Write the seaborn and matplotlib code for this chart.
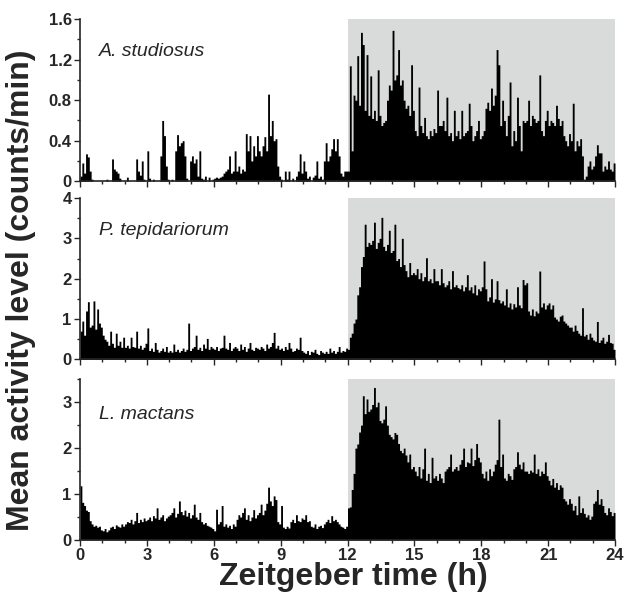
import numpy as np
import pandas as pd
import seaborn as sns
import matplotlib
matplotlib.use('Agg')
import matplotlib.pyplot as plt
from matplotlib.ticker import MultipleLocator

# actividad media por intervalos de 5 min (12 valores por hora, ZT0 - ZT24)
a_studiosus = [
    [0.05, 0.18, 0.08, 0.27, 0.24, 0.10, 0.02, 0.00, 0.00, 0.00, 0.00, 0.00],
    [0.00, 0.00, 0.02, 0.00, 0.00, 0.22, 0.12, 0.10, 0.08, 0.03, 0.00, 0.00],
    [0.00, 0.04, 0.00, 0.00, 0.00, 0.00, 0.22, 0.10, 0.06, 0.20, 0.02, 0.00],
    [0.30, 0.03, 0.00, 0.02, 0.00, 0.00, 0.00, 0.25, 0.60, 0.45, 0.15, 0.02],
    [0.00, 0.02, 0.00, 0.30, 0.46, 0.35, 0.38, 0.40, 0.25, 0.03, 0.00, 0.20],
    [0.25, 0.18, 0.22, 0.05, 0.30, 0.03, 0.02, 0.05, 0.00, 0.04, 0.00, 0.02],
    [0.03, 0.04, 0.03, 0.04, 0.05, 0.08, 0.10, 0.12, 0.25, 0.08, 0.10, 0.30],
    [0.10, 0.15, 0.08, 0.12, 0.10, 0.47, 0.30, 0.45, 0.20, 0.35, 0.25, 0.45],
    [0.30, 0.25, 0.35, 0.44, 0.30, 0.86, 0.45, 0.60, 0.40, 0.42, 0.15, 0.05],
    [0.02, 0.00, 0.10, 0.02, 0.10, 0.00, 0.03, 0.00, 0.05, 0.10, 0.27, 0.08],
    [0.20, 0.10, 0.03, 0.05, 0.00, 0.04, 0.06, 0.20, 0.03, 0.05, 0.02, 0.20],
    [0.38, 0.20, 0.25, 0.32, 0.42, 0.30, 0.42, 0.25, 0.08, 0.05, 0.10, 0.10],
    [0.10, 1.14, 0.30, 0.85, 0.80, 1.24, 0.75, 1.47, 1.35, 0.70, 1.25, 0.65],
    [1.04, 0.62, 0.70, 0.60, 1.10, 0.65, 0.55, 0.58, 0.60, 0.80, 0.95, 0.90],
    [1.49, 1.00, 1.05, 1.30, 0.95, 1.00, 0.80, 0.72, 0.75, 0.65, 1.15, 0.70],
    [0.50, 0.45, 0.93, 0.55, 0.48, 0.63, 0.45, 0.42, 0.50, 0.45, 0.52, 0.48],
    [0.90, 0.55, 0.55, 0.60, 0.50, 0.83, 0.45, 0.48, 0.40, 0.70, 0.45, 0.50],
    [0.42, 0.70, 0.45, 0.48, 0.50, 0.77, 0.55, 0.40, 0.45, 0.50, 0.60, 0.42],
    [0.45, 0.50, 0.72, 0.78, 0.70, 0.92, 0.75, 0.85, 1.30, 1.15, 0.55, 0.80],
    [0.60, 0.45, 0.65, 0.98, 0.35, 0.50, 0.40, 0.83, 0.55, 0.30, 0.60, 0.58],
    [0.60, 0.80, 0.55, 0.65, 0.62, 0.58, 0.60, 1.05, 0.50, 0.45, 0.60, 0.70],
    [0.55, 0.60, 0.58, 0.55, 0.75, 0.62, 0.55, 0.60, 0.45, 0.40, 0.35, 0.47],
    [0.40, 0.77, 0.30, 0.40, 0.35, 0.42, 0.25, 0.02, 0.05, 0.15, 0.20, 0.12],
    [0.15, 0.25, 0.36, 0.28, 0.28, 0.10, 0.15, 0.12, 0.20, 0.12, 0.10, 0.18],
]

p_tepidariorum = [
    [0.70, 0.95, 0.60, 1.20, 1.43, 0.80, 0.85, 1.45, 0.75, 1.25, 0.90, 0.80],
    [0.60, 0.50, 0.45, 0.35, 0.70, 0.40, 0.30, 0.65, 0.35, 0.45, 0.30, 0.55],
    [0.30, 0.35, 0.28, 0.55, 0.32, 0.30, 0.70, 0.28, 0.35, 0.25, 0.30, 0.40],
    [0.78, 0.22, 0.28, 0.20, 0.42, 0.25, 0.18, 0.22, 0.28, 0.20, 0.32, 0.18],
    [0.22, 0.18, 0.38, 0.20, 0.25, 0.18, 0.22, 0.28, 0.20, 0.25, 0.90, 0.22],
    [0.28, 0.32, 0.60, 0.25, 0.30, 0.22, 0.38, 0.28, 0.52, 0.25, 0.32, 0.28],
    [0.25, 0.32, 0.22, 0.28, 0.30, 0.60, 0.28, 0.25, 0.42, 0.22, 0.28, 0.32],
    [0.28, 0.22, 0.38, 0.25, 0.32, 0.20, 0.28, 0.42, 0.25, 0.22, 0.30, 0.28],
    [0.25, 0.32, 0.28, 0.22, 0.38, 0.28, 0.32, 0.42, 0.67, 0.28, 0.35, 0.25],
    [0.28, 0.22, 0.32, 0.25, 0.42, 0.28, 0.20, 0.22, 0.28, 0.25, 0.55, 0.22],
    [0.18, 0.15, 0.22, 0.12, 0.20, 0.18, 0.25, 0.15, 0.12, 0.22, 0.18, 0.15],
    [0.20, 0.15, 0.28, 0.18, 0.22, 0.15, 0.20, 0.32, 0.18, 0.22, 0.20, 0.28],
    [0.25, 0.55, 0.65, 0.90, 1.00, 1.60, 1.80, 2.30, 2.55, 3.35, 2.80, 2.90],
    [2.85, 2.95, 3.40, 2.75, 2.90, 3.00, 3.52, 2.80, 2.70, 2.85, 3.20, 2.65],
    [2.70, 3.35, 2.45, 2.50, 2.30, 3.00, 2.35, 2.20, 2.05, 2.40, 2.10, 2.15],
    [2.10, 2.25, 2.00, 2.15, 1.95, 2.05, 2.52, 1.95, 2.00, 1.90, 2.25, 1.95],
    [1.95, 1.85, 2.25, 1.90, 1.80, 1.85, 1.95, 1.75, 2.20, 1.80, 1.85, 1.78],
    [1.75, 1.85, 1.70, 1.80, 2.10, 1.72, 1.80, 1.65, 1.85, 1.60, 1.75, 1.70],
    [1.80, 2.44, 1.75, 1.45, 1.55, 2.00, 1.42, 1.50, 1.95, 1.48, 1.40, 1.45],
    [1.35, 1.75, 1.30, 1.40, 1.25, 1.38, 1.30, 1.80, 1.35, 1.28, 1.98, 1.85],
    [1.90, 1.20, 1.10, 1.25, 1.08, 1.20, 1.15, 2.19, 1.30, 1.40, 1.25, 1.35],
    [1.40, 1.25, 1.35, 1.05, 1.00, 0.95, 1.07, 1.10, 0.95, 0.90, 0.85, 0.80],
    [0.80, 0.70, 0.85, 0.72, 0.65, 0.60, 1.28, 0.58, 0.62, 0.50, 0.65, 0.55],
    [0.48, 0.45, 0.94, 0.42, 0.48, 0.55, 0.40, 0.45, 0.62, 0.42, 0.40, 0.25],
]

l_mactans = [
    [1.18, 0.82, 0.75, 0.65, 0.62, 0.42, 0.35, 0.30, 0.32, 0.28, 0.30, 0.22],
    [0.20, 0.25, 0.18, 0.22, 0.28, 0.30, 0.25, 0.33, 0.30, 0.28, 0.35, 0.30],
    [0.35, 0.40, 0.38, 0.45, 0.35, 0.42, 0.60, 0.38, 0.45, 0.40, 0.48, 0.42],
    [0.45, 0.50, 0.42, 0.53, 0.48, 0.70, 0.45, 0.50, 0.55, 0.42, 0.48, 0.52],
    [0.55, 0.60, 0.70, 0.50, 0.58, 0.85, 0.62, 0.55, 0.65, 0.52, 0.60, 0.48],
    [0.55, 0.78, 0.50, 0.45, 0.60, 0.40, 0.35, 0.38, 0.32, 0.30, 0.28, 0.25],
    [0.20, 0.67, 0.35, 0.40, 0.75, 0.30, 0.35, 0.28, 0.32, 0.25, 0.35, 0.30],
    [0.45, 0.55, 0.50, 0.60, 0.70, 0.45, 0.55, 0.42, 0.50, 0.66, 0.48, 0.55],
    [0.60, 0.78, 0.55, 0.65, 0.80, 1.15, 0.85, 0.75, 0.96, 0.88, 0.40, 0.35],
    [0.75, 0.28, 0.25, 0.30, 0.26, 0.40, 0.45, 0.38, 0.55, 0.42, 0.40, 0.48],
    [0.45, 0.55, 0.40, 0.42, 0.30, 0.28, 0.35, 0.25, 0.30, 0.32, 0.27, 0.35],
    [0.40, 0.45, 0.38, 0.53, 0.42, 0.45, 0.40, 0.35, 0.30, 0.28, 0.25, 0.30],
    [0.70, 0.72, 1.10, 1.45, 2.00, 2.09, 2.35, 2.50, 3.14, 2.75, 3.07, 2.80],
    [2.85, 2.95, 3.32, 2.90, 3.00, 2.60, 2.55, 2.63, 2.92, 2.50, 2.30, 2.25],
    [2.20, 2.34, 2.30, 2.10, 1.95, 1.90, 2.00, 1.85, 1.70, 1.87, 1.55, 1.60],
    [1.50, 1.40, 1.60, 1.35, 1.55, 2.00, 1.30, 1.45, 1.25, 1.80, 1.35, 1.40],
    [1.30, 1.45, 1.35, 1.25, 1.50, 1.55, 1.60, 1.87, 1.50, 1.55, 1.60, 1.52],
    [1.65, 1.75, 2.00, 1.60, 1.70, 1.68, 2.00, 1.62, 1.75, 2.10, 1.80, 1.70],
    [1.45, 1.35, 1.50, 1.30, 1.55, 1.40, 1.50, 1.65, 1.75, 2.63, 1.60, 1.87],
    [1.35, 1.30, 1.45, 1.40, 1.32, 1.55, 1.60, 1.92, 1.65, 1.55, 1.70, 1.50],
    [1.50, 1.45, 1.52, 1.48, 1.87, 1.45, 1.55, 1.40, 1.50, 1.45, 1.70, 1.40],
    [1.30, 1.20, 1.34, 1.15, 1.25, 1.10, 1.20, 1.15, 0.90, 0.85, 0.78, 0.90],
    [0.80, 0.65, 0.75, 0.55, 0.96, 0.60, 0.70, 0.58, 0.50, 0.55, 0.45, 0.52],
    [0.80, 0.85, 1.10, 0.78, 0.90, 0.75, 0.60, 0.55, 0.70, 0.62, 0.53, 0.60],
]

especies = ["A. studiosus", "P. tepidariorum", "L. mactans"]
series = [a_studiosus, p_tepidariorum, l_mactans]
y_max = [1.6, 4, 3.5]
y_major = [[0, 0.4, 0.8, 1.2, 1.6], [0, 1, 2, 3, 4], [0, 1, 2, 3]]
y_labels = [["0", "0.4", "0.8", "1.2", "1.6"], ["0", "1", "2", "3", "4"], ["0", "1", "2", "3"]]
y_minor = [0.2, 0.5, 0.5]
x_major = [0, 3, 6, 9, 12, 15, 18, 21, 24]

sns.set_style("ticks")
plt.rcParams['font.family'] = ['Liberation Sans', 'DejaVu Sans']

fig = plt.figure(figsize=(6.25, 6), dpi=100)
posiciones = [[0.128, 0.698, 0.856, 0.270],
              [0.128, 0.401, 0.856, 0.269],
              [0.128, 0.100, 0.856, 0.268]]

n_bins = 24 * 12
centros = (np.arange(n_bins) + 0.5) * 24 / n_bins

for i in range(3):
    ax = fig.add_axes(posiciones[i])
    df = pd.DataFrame({"zt": centros, "actividad": np.ravel(series[i])})
    ax.axvspan(12, 24, color="#d9dada", zorder=0, lw=0)
    sns.histplot(data=df, x="zt", weights="actividad", bins=n_bins, binrange=(0, 24),
                 element="step", fill=True, color="black", alpha=1, linewidth=0, ax=ax)
    ax.set_xlim(0, 24)
    ax.set_ylim(0, y_max[i])
    ax.set_xlabel("")
    ax.set_ylabel("")
    ax.set_yticks(y_major[i], y_labels[i], fontweight="bold", fontsize=12)
    ax.yaxis.set_minor_locator(MultipleLocator(y_minor[i]))
    ax.set_xticks(x_major, [str(v) for v in x_major], fontweight="bold", fontsize=12)
    ax.xaxis.set_minor_locator(MultipleLocator(1))
    ax.tick_params(which="major", direction="out", length=4, width=1, pad=2)
    ax.tick_params(which="minor", direction="out", length=2.5, width=1)
    if i < 2:
        ax.tick_params(labelbottom=False)
    for lado in ["top", "right"]:
        ax.spines[lado].set_visible(False)
    for lado in ["left", "bottom"]:
        ax.spines[lado].set_linewidth(1.2)
        ax.spines[lado].set_zorder(5)
    ax.text(0.035, 0.80 if i < 2 else 0.78, especies[i], transform=ax.transAxes,
            fontsize=14, fontstyle="italic", va="center", ha="left")

fig.text(0.034, 0.517, "Mean activity level (counts/min)", rotation=90,
         fontsize=23, fontweight="bold", ha="center", va="center")
fig.text(0.566, 0.038, "Zeitgeber time (h)", fontsize=23, fontweight="bold",
         ha="center", va="center")

plt.savefig("out.png", dpi=100)
